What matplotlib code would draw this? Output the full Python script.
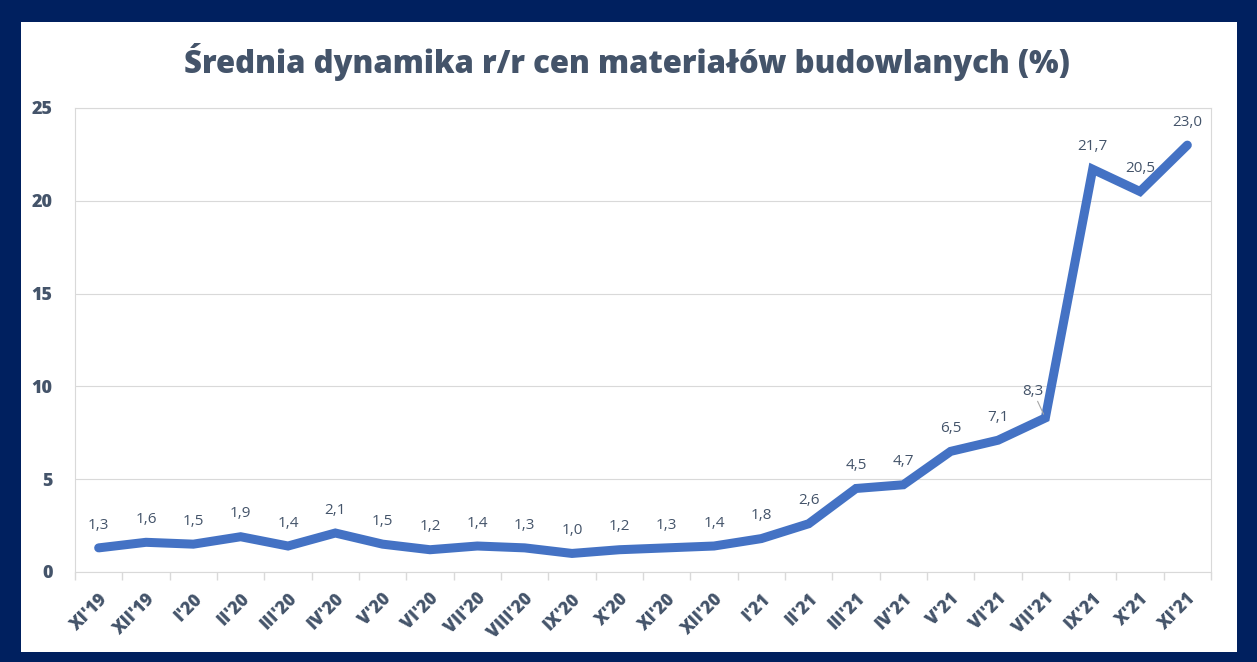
import matplotlib
matplotlib.use("Agg")
import matplotlib.pyplot as plt
from matplotlib.patches import Rectangle
import numpy as np

categories = ["XI'19", "XII'19", "I'20", "II'20", "III'20", "IV'20", "V'20", "VI'20",
              "VII'20", "VIII'20", "IX'20", "X'20", "XI'20", "XII'20", "I'21", "II'21",
              "III'21", "IV'21", "V'21", "VI'21", "VII'21", "IX'21", "X'21", "XI'21"]
values = [1.3, 1.6, 1.5, 1.9, 1.4, 2.1, 1.5, 1.2, 1.4, 1.3, 1.0, 1.2, 1.3, 1.4, 1.8, 2.6,
          4.5, 4.7, 6.5, 7.1, 8.3, 21.7, 20.5, 23.0]
y_ticks = [0, 5, 10, 15, 20, 25]
title = "Średnia dynamika r/r cen materiałów budowlanych (%)"

NAVY = "#00205F"
TXT = "#44546A"
BLUE = "#4472C4"
GRID = "#D9D9D9"

plt.rcParams['font.family'] = ['Open Sans', 'DejaVu Sans']

fig = plt.figure(figsize=(12.57, 6.62), dpi=100, facecolor=NAVY)
W, H = 1257, 662
fig.patches.append(Rectangle((21 / W, (H - 652) / H), (1237 - 21) / W, (652 - 22) / H,
                             transform=fig.transFigure, facecolor="white", edgecolor="none", zorder=-10))

ax = fig.add_axes([75 / W, (H - 572) / H, (1211 - 75) / W, (572 - 108) / H])
ax.set_zorder(1)
ax.set_facecolor("white")
x = np.arange(len(categories))
ax.plot(x, values, color=BLUE, lw=6.5, solid_joinstyle='miter', solid_capstyle='round', zorder=3)

ax.set_xlim(-0.5, len(categories) - 0.5)
ax.set_ylim(0, 25)
ax.set_yticks(y_ticks)
ax.set_yticklabels([str(v) for v in y_ticks], fontsize=13, fontweight='heavy', color=TXT)
ax.tick_params(axis='y', length=0, pad=16)
ax.set_xticks(x)
ax.set_xticklabels(categories, rotation=45, ha='right', rotation_mode='anchor',
                   fontsize=12.5, fontweight='heavy', color=TXT)
ax.tick_params(axis='x', which='major', length=0, pad=13)
ax.set_xticks(np.arange(-0.5, len(categories)), minor=True)
ax.tick_params(axis='x', which='minor', length=6, color=GRID, width=1)
ax.grid(axis='y', color=GRID, lw=0.8, zorder=0)
for s in ax.spines.values():
    s.set_color(GRID)
    s.set_linewidth(0.8)

for i, v in enumerate(values):
    lab = f"{v:.1f}".replace('.', ',')
    if categories[i] == "VII'21":
        ax.annotate(lab, xy=(i, v), xytext=(-9, 14), textcoords='offset points',
                    ha='center', va='bottom', fontsize=11, color=TXT,
                    arrowprops=dict(arrowstyle='-', color='#A6A6A6', lw=0.8, shrinkA=0, shrinkB=3))
    else:
        ax.annotate(lab, xy=(i, v), xytext=(0, 11), textcoords='offset points',
                    ha='center', va='bottom', fontsize=11, color=TXT)

fig.text(627 / W, 1 - 62 / H, title, ha='center', va='center', fontsize=22.4,
         fontweight='heavy', color=TXT)

fig.savefig("out.png", dpi=100, facecolor=NAVY)
